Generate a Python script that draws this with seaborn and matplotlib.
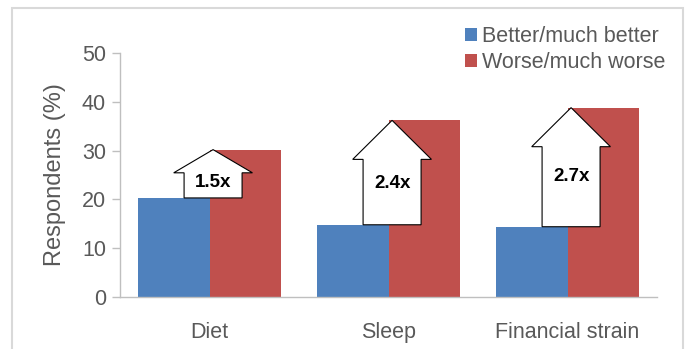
import pandas as pd
import matplotlib
matplotlib.use("Agg")
import matplotlib.pyplot as plt
from matplotlib.patches import Rectangle
import seaborn as sns

# values
categories = ["Diet", "Sleep", "Financial strain"]
better = [20.3, 14.8, 14.4]
worse = [30.2, 36.2, 38.8]
series_names = ["Better/much better", "Worse/much worse"]
ratio_labels = ["1.5x", "2.4x", "2.7x"]

blue = "#4F81BD"
red = "#C0504D"
text_gray = "#595959"
axis_gray = "#BFBFBF"

sns.set_style("white")
plt.rcParams["font.family"] = ["Liberation Sans", "DejaVu Sans"]

df = pd.DataFrame({
    "category": categories * 2,
    "response": [series_names[0]] * 3 + [series_names[1]] * 3,
    "value": better + worse,
})

fig, ax = plt.subplots(figsize=(6.88, 3.49), dpi=100)
fig.subplots_adjust(left=120 / 688, right=657 / 688, bottom=1 - 297 / 349, top=1 - 53 / 349)

sns.barplot(data=df, x="category", y="value", hue="response",
            palette=[blue, red], saturation=1, width=0.8, linewidth=0, ax=ax)

# arrows showing the worse/better ratio
for i, (b, w) in enumerate(zip(better, worse)):
    hl = min(8.0, (w - b) * 0.48)
    ax.arrow(i + 0.02, b, 0, w - b, width=0.324, head_width=0.44, head_length=hl,
             length_includes_head=True, fc="white", ec="black", lw=0.8, zorder=4)
    ax.text(i + 0.02, b + (w - b - hl) * 0.63, ratio_labels[i], ha="center", va="center",
            fontsize=13.5, fontweight="bold", color="black", zorder=5)

ax.set_xlim(-0.5, 2.5)
ax.set_ylim(0, 50)
ax.set_yticks(range(0, 51, 10))
ax.set_xticks([-0.5, 0.5, 1.5, 2.5], minor=True)
ax.tick_params(axis="x", which="major", length=0, pad=18, labelsize=15.5, labelcolor=text_gray)
ax.tick_params(axis="x", which="minor", length=7, width=1, color=axis_gray, direction="out")
ax.tick_params(axis="y", length=6, width=1, color=axis_gray, direction="out", pad=4,
               labelsize=15.5, labelcolor=text_gray, left=True)
ax.set_xlabel("")
ax.set_ylabel("Respondents (%)", fontsize=17, color=text_gray)
ax.yaxis.set_label_coords(-0.10, 0.5)

for side in ["top", "right"]:
    ax.spines[side].set_visible(False)
for side in ["left", "bottom"]:
    ax.spines[side].set_color(axis_gray)
    ax.spines[side].set_linewidth(1)

handles, labels = ax.get_legend_handles_labels()
ax.legend(handles, labels, loc="upper left", bbox_to_anchor=(465 / 688, 1 - 26 / 349),
          bbox_transform=fig.transFigure, frameon=False, fontsize=15.5,
          handlelength=0.55, handleheight=0.55, handletextpad=0.25, labelspacing=0.25,
          borderpad=0, borderaxespad=0, labelcolor=text_gray)

# light chart-area border
fig.patches.append(Rectangle((12 / 688, -0.1), (683 - 12) / 688, 1 - 8 / 349 + 0.1,
                             transform=fig.transFigure, fill=False, ec="#D9D9D9", lw=1.5))

fig.savefig("out.png", dpi=100)
